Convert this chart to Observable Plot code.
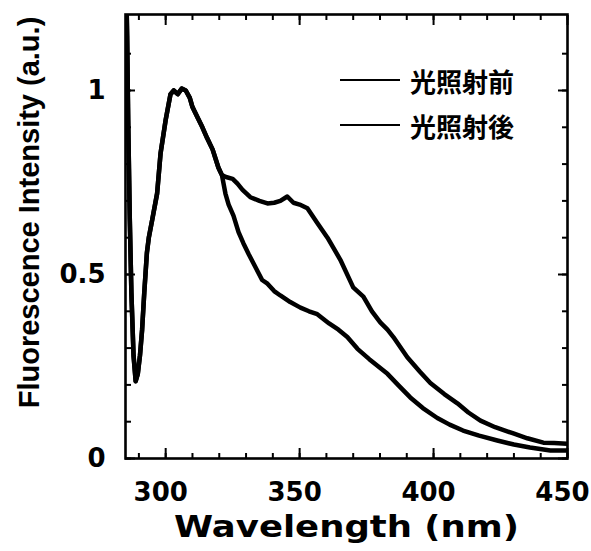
<!DOCTYPE html>
<html><head><meta charset="utf-8">
<script src="https://cdn.jsdelivr.net/npm/d3@7"></script>
<script src="https://cdn.jsdelivr.net/npm/@observablehq/plot@0.6"></script>
<style>
body{margin:0;background:#fff;}
#wrap{position:relative;width:591px;height:551px;}
.leg{position:absolute;left:340px;height:30px;display:flex;align-items:center;font-family:"Noto Sans CJK JP",sans-serif;font-size:26px;font-weight:bold;color:#000;}
.leg .sw{width:60px;border-top:2.6px solid #000;margin-right:10px;}
</style></head><body><div id="wrap"></div>
<script>
// ---- data ----
const seriesNames = ["光照射前", "光照射後"];
const xTickLabels = [300, 350, 400, 450];
const yTickLabels = [0, 0.5, 1];
const xLabel = "Wavelength (nm)";
const yLabel = "Fluorescence Intensity (a.u.)";

// shared rise and peak
const wlCommon = [285.0, 285.6, 286.0, 286.6, 287.2, 288.0, 288.8, 289.6, 290.4, 291.2, 292.0, 293.0, 293.7, 295.0, 296.8, 298.1, 300.0, 301.8, 303.0, 304.5, 306.0, 307.5, 309.0, 310.0, 312.0, 313.7, 315.5, 317.5, 319.7, 321.0];
const intCommon = [1.40, 1.15, 0.92, 0.65, 0.45, 0.28, 0.21, 0.23, 0.28, 0.35, 0.45, 0.56, 0.60, 0.65, 0.72, 0.83, 0.92, 0.99, 1.00, 0.99, 1.005, 1.0, 0.98, 0.955, 0.925, 0.90, 0.87, 0.84, 0.79, 0.77];

// series with shoulder near 345 nm
const wlBefore = [322.5, 325.0, 326.8, 328.7, 331.6, 335.0, 338.0, 340.5, 342.8, 345.4, 347.7, 350.0, 352.9, 356.6, 360.4, 365.2, 370.0, 373.8, 377.0, 380.1, 382.8, 385.0, 390.2, 395.0, 398.8, 404.0, 408.9, 413.0, 417.5, 423.0, 429.8, 435.0, 441.0, 445.0, 450.0];
const intBefore = [0.765, 0.76, 0.747, 0.73, 0.71, 0.70, 0.693, 0.695, 0.70, 0.712, 0.695, 0.69, 0.68, 0.64, 0.60, 0.54, 0.465, 0.44, 0.40, 0.37, 0.35, 0.33, 0.275, 0.235, 0.205, 0.175, 0.15, 0.125, 0.103, 0.085, 0.068, 0.055, 0.043, 0.042, 0.04];

// series falling quickly after the peak
const wlAfter = [322.3, 323.5, 325.3, 327.2, 329.0, 331.0, 332.8, 336.0, 338.0, 340.5, 342.8, 346.5, 350.3, 353.5, 356.6, 361.0, 364.5, 367.8, 371.6, 376.0, 382.8, 387.0, 391.3, 396.0, 401.4, 406.0, 411.0, 417.0, 423.8, 430.0, 436.0, 443.6, 450.0];
const intAfter = [0.72, 0.69, 0.66, 0.615, 0.585, 0.555, 0.53, 0.485, 0.475, 0.455, 0.443, 0.425, 0.41, 0.40, 0.392, 0.367, 0.35, 0.33, 0.298, 0.27, 0.23, 0.198, 0.166, 0.137, 0.11, 0.092, 0.076, 0.062, 0.049, 0.038, 0.03, 0.022, 0.022];

const xMinorTicks = d3.range(290, 451, 10);
const yMinorTicks = d3.range(0, 12).map(i => i / 10);

// ---- build rows ----
const rows = [];
function addSeries(name, wl, v) {
  wlCommon.forEach((w, i) => rows.push({series: name, wl: w, v: intCommon[i]}));
  wl.forEach((w, i) => rows.push({series: name, wl: w, v: v[i]}));
}
addSeries(seriesNames[0], wlBefore, intBefore);
addSeries(seriesNames[1], wlAfter, intAfter);

const noText = () => "";
const chart = Plot.plot({
  width: 591, height: 551,
  marginLeft: 125, marginRight: 24, marginTop: 14, marginBottom: 93,
  style: {fontFamily: "DejaVu Sans", background: "white", color: "black"},
  x: {domain: [285, 450]},
  y: {domain: [0, 1.2065]},
  marks: [
    Plot.line(rows, {x: "wl", y: "v", z: "series", stroke: "black", strokeWidth: 4.5, clip: true, strokeLinejoin: "round"}),
    // tick labels
    Plot.axisX(xTickLabels, {anchor: "bottom", tickSize: 0, tickPadding: 24, dx: -5, fontSize: 26, fontWeight: "bold", label: null}),
    Plot.axisY(yTickLabels, {anchor: "left", tickSize: 0, tickPadding: 20, fontSize: 26, fontWeight: "bold", tickFormat: d => String(d), label: null}),
    // inward ticks: minor
    Plot.axisX(xMinorTicks, {anchor: "bottom", tickSize: 5, dy: -5, tickFormat: noText, label: null, strokeWidth: 2}),
    Plot.axisX(xMinorTicks, {anchor: "top", tickSize: 5, dy: 5, tickFormat: noText, label: null, strokeWidth: 2}),
    Plot.axisY(yMinorTicks, {anchor: "left", tickSize: 6, dx: 6, tickFormat: noText, label: null, strokeWidth: 2}),
    Plot.axisY(yMinorTicks, {anchor: "right", tickSize: 6, dx: -6, tickFormat: noText, label: null, strokeWidth: 2}),
    // inward ticks: major
    Plot.axisX(xTickLabels, {anchor: "bottom", tickSize: 10, dy: -10, tickFormat: noText, label: null, strokeWidth: 2}),
    Plot.axisX(xTickLabels, {anchor: "top", tickSize: 10, dy: 10, tickFormat: noText, label: null, strokeWidth: 2}),
    Plot.axisY(yTickLabels, {anchor: "left", tickSize: 10, dx: 10, tickFormat: noText, label: null, strokeWidth: 2}),
    Plot.axisY(yTickLabels, {anchor: "right", tickSize: 10, dx: -10, tickFormat: noText, label: null, strokeWidth: 2}),
    Plot.frame({stroke: "black", strokeWidth: 2.6}),
    // axis titles
    Plot.text([xLabel], {text: d => d, frameAnchor: "bottom", textAnchor: "middle", dy: 78, fontSize: 30, fontWeight: "bold", fill: "black"}),
    Plot.text([yLabel], {text: d => d, frameAnchor: "left", textAnchor: "middle", dx: -96, dy: -24, rotate: -90, fontSize: 29, fontWeight: "bold", fontFamily: "Liberation Sans", fill: "black"})
  ]
});

// stretch the x title to the reference width
d3.select(chart).selectAll("text").each(function() {
  if (this.textContent === xLabel) { this.setAttribute("textLength", 345); this.setAttribute("lengthAdjust", "spacingAndGlyphs"); }
});

const wrap = document.getElementById("wrap");
wrap.appendChild(chart);
const legendY = [80, 125];
seriesNames.forEach((name, i) => {
  const row = document.createElement("div");
  row.className = "leg";
  row.style.top = (legendY[i] - 15) + "px";
  const sw = document.createElement("span"); sw.className = "sw";
  const tx = document.createElement("span"); tx.textContent = name;
  row.appendChild(sw); row.appendChild(tx);
  wrap.appendChild(row);
});
</script></body></html>
